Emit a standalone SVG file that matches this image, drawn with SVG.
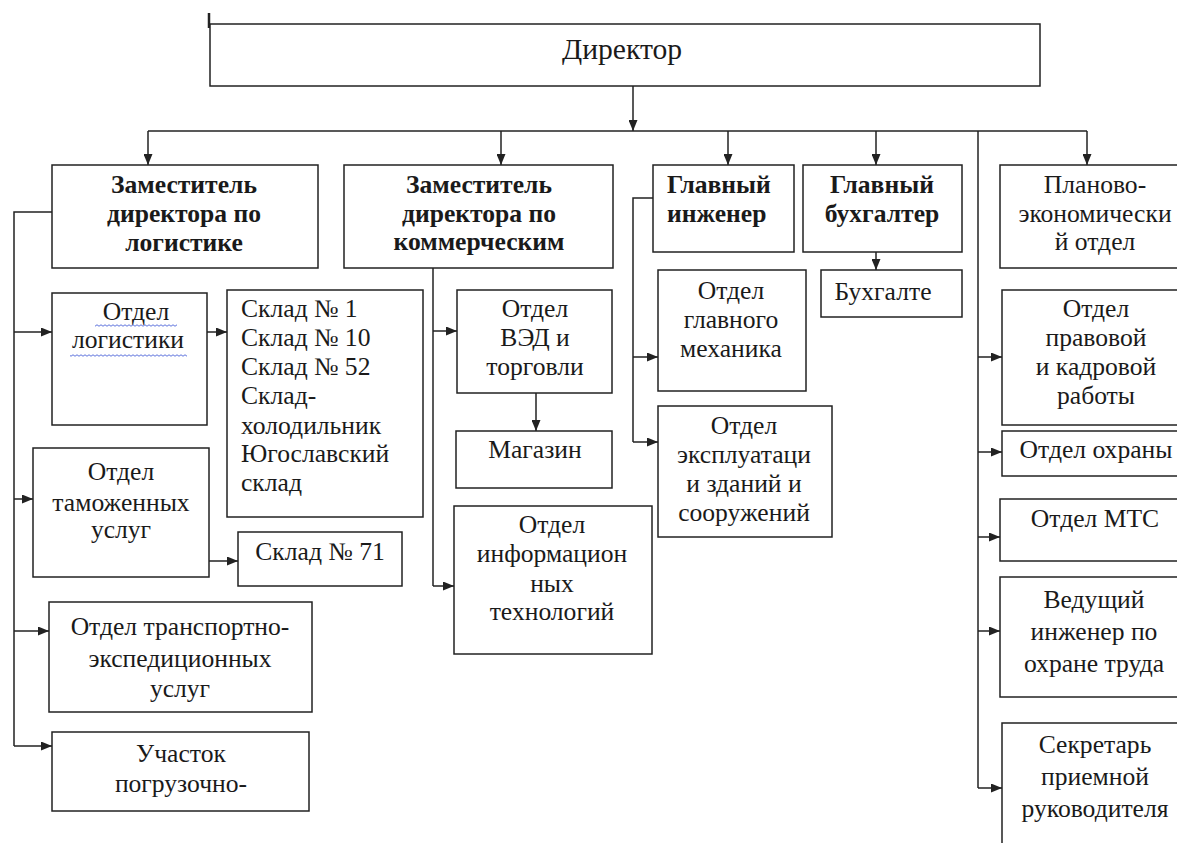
<svg xmlns="http://www.w3.org/2000/svg" width="1177" height="843" viewBox="0 0 1177 843">
  <style>
    .box { fill: #fff; stroke: #222; stroke-width: 1.5; }
    .t { font-family: "Liberation Serif", "Times New Roman", serif; font-size: 25.6px; fill: #1a1a1a; text-anchor: middle; }
    .b { font-family: "Liberation Serif", "Times New Roman", serif; font-size: 25.6px; font-weight: bold; fill: #1a1a1a; text-anchor: middle; }
    .l { text-anchor: start; }
    .conn path { fill: none; stroke: #222; stroke-width: 1.5; }
    .arr { marker-end: url(#head); }
  </style>
  <defs>
    <marker id="head" markerUnits="userSpaceOnUse" markerWidth="11" markerHeight="9" refX="11" refY="4.5" orient="auto">
      <path d="M0,0 L11,4.5 L0,9 z" fill="#222"/>
    </marker>
    <pattern id="wave" width="4" height="3" patternUnits="userSpaceOnUse">
      <path d="M0 1.5 Q1 0 2 1.5 T4 1.5" fill="none" stroke="#4a62d8" stroke-width="0.9"/>
    </pattern>
  </defs>
  <rect width="1177" height="843" fill="#fff"/>

  <!-- connectors -->
  <g class="conn">
    <path d="M209 13 V28" style="stroke-width:2.5"/>
    <path class="arr" d="M633 86 V131"/>
    <path d="M148 131 H1087"/>
    <path class="arr" d="M148 131 V165"/>
    <path class="arr" d="M501 131 V165"/>
    <path class="arr" d="M728 131 V165"/>
    <path class="arr" d="M876 131 V165"/>
    <path class="arr" d="M1087 131 V165"/>
    <!-- right column -->
    <path d="M978 131 V788"/>
    <path class="arr" d="M978 357 H1002"/>
    <path class="arr" d="M978 452 H1002"/>
    <path class="arr" d="M978 537 H1000"/>
    <path class="arr" d="M978 631 H1000"/>
    <path class="arr" d="M978 788 H1002"/>
    <!-- logistics branch -->
    <path d="M52 212 H14 V746"/>
    <path class="arr" d="M14 332 H52"/>
    <path class="arr" d="M14 499 H33"/>
    <path class="arr" d="M14 631 H49"/>
    <path class="arr" d="M14 746 H52"/>
    <path class="arr" d="M207 332 H227"/>
    <path class="arr" d="M209 561 H238"/>
    <!-- commercial branch -->
    <path d="M433 268 V586"/>
    <path class="arr" d="M433 331 H457"/>
    <path class="arr" d="M433 586 H454"/>
    <path class="arr" d="M536 393 V431"/>
    <!-- engineer branch -->
    <path d="M653 198 H633 V442"/>
    <path class="arr" d="M633 357 H658"/>
    <path class="arr" d="M633 442 H658"/>
    <!-- accountant -->
    <path class="arr" d="M876 252 V270"/>
  </g>

  <g id="director">
    <rect class="box" x="210" y="24" width="830" height="62"/>
    <text class="t" x="622" y="59" style="font-size:29.6px">Директор</text>
  </g>

  <g id="dep-logistics">
    <rect class="box" x="52" y="165" width="266" height="103"/>
    <text class="b" x="184" y="193">Заместитель</text>
    <text class="b" x="184" y="222">директора по</text>
    <text class="b" x="184" y="251">логистике</text>
  </g>

  <g id="dep-commercial">
    <rect class="box" x="344" y="165" width="269" height="103"/>
    <text class="b" x="479" y="193">Заместитель</text>
    <text class="b" x="479" y="222">директора по</text>
    <text class="b" x="479" y="250">коммерческим</text>
  </g>

  <g id="chief-engineer">
    <rect class="box" x="653" y="165" width="141" height="87"/>
    <text class="b l" x="667" y="193">Главный</text>
    <text class="b l" x="667" y="222">инженер</text>
  </g>

  <g id="chief-accountant">
    <rect class="box" x="803" y="165" width="159" height="87"/>
    <text class="b" x="882" y="193">Главный</text>
    <text class="b" x="882" y="222">бухгалтер</text>
  </g>

  <g id="planning">
    <rect class="box" x="1000" y="165" width="200" height="103"/>
    <text class="t" x="1095" y="193">Планово-</text>
    <text class="t" x="1095" y="222">экономически</text>
    <text class="t" x="1095" y="250">й отдел</text>
  </g>

  <g id="logistics-dept">
    <rect class="box" x="52" y="293" width="155" height="132"/>
    <text class="t" x="136" y="320">Отдел</text>
    <text class="t" x="128" y="348">логистики</text>
    <rect x="95" y="324" width="82" height="3" fill="url(#wave)"/>
    <rect x="70" y="354" width="117" height="3" fill="url(#wave)"/>
  </g>

  <g id="warehouses">
    <rect class="box" x="227" y="290" width="196" height="227"/>
    <text class="t l" x="241" y="317">Склад № 1</text>
    <text class="t l" x="241" y="346">Склад № 10</text>
    <text class="t l" x="241" y="375">Склад № 52</text>
    <text class="t l" x="241" y="404">Склад-</text>
    <text class="t l" x="241" y="434">холодильник</text>
    <text class="t l" x="241" y="462">Югославский</text>
    <text class="t l" x="241" y="491">склад</text>
  </g>

  <g id="customs">
    <rect class="box" x="33" y="448" width="176" height="129"/>
    <text class="t" x="121" y="480">Отдел</text>
    <text class="t" x="121" y="511">таможенных</text>
    <text class="t" x="121" y="538">услуг</text>
  </g>

  <g id="warehouse-71">
    <rect class="box" x="238" y="532" width="164" height="54"/>
    <text class="t" x="320" y="560">Склад № 71</text>
  </g>

  <g id="transport">
    <rect class="box" x="49" y="602" width="263" height="110"/>
    <text class="t" x="180" y="635">Отдел транспортно-</text>
    <text class="t" x="180" y="667">экспедиционных</text>
    <text class="t" x="180" y="697">услуг</text>
  </g>

  <g id="loading">
    <rect class="box" x="52" y="732" width="257" height="79"/>
    <text class="t" x="181" y="762">Участок</text>
    <text class="t" x="181" y="792">погрузочно-</text>
  </g>

  <g id="foreign-trade">
    <rect class="box" x="457" y="290" width="155" height="103"/>
    <text class="t" x="535" y="317">Отдел</text>
    <text class="t" x="535" y="346">ВЭД и</text>
    <text class="t" x="535" y="375">торговли</text>
  </g>

  <g id="shop">
    <rect class="box" x="456" y="431" width="156" height="57"/>
    <text class="t" x="535" y="458">Магазин</text>
  </g>

  <g id="it">
    <rect class="box" x="454" y="506" width="198" height="148"/>
    <text class="t" x="552" y="533">Отдел</text>
    <text class="t" x="552" y="562">информацион</text>
    <text class="t" x="552" y="592">ных</text>
    <text class="t" x="552" y="620">технологий</text>
  </g>

  <g id="mechanic">
    <rect class="box" x="658" y="270" width="148" height="121"/>
    <text class="t" x="731" y="299">Отдел</text>
    <text class="t" x="731" y="328">главного</text>
    <text class="t" x="731" y="357">механика</text>
  </g>

  <g id="buildings">
    <rect class="box" x="658" y="406" width="174" height="131"/>
    <text class="t" x="744" y="434">Отдел</text>
    <text class="t" x="744" y="463">эксплуатаци</text>
    <text class="t" x="744" y="492">и зданий и</text>
    <text class="t" x="744" y="521">сооружений</text>
  </g>

  <g id="accountant">
    <rect class="box" x="821" y="270" width="141" height="47"/>
    <text class="t" x="883" y="300">Бухгалте</text>
  </g>

  <g id="legal-hr">
    <rect class="box" x="1002" y="290" width="200" height="135"/>
    <text class="t" x="1096" y="317">Отдел</text>
    <text class="t" x="1096" y="346">правовой</text>
    <text class="t" x="1096" y="375">и кадровой</text>
    <text class="t" x="1096" y="404">работы</text>
  </g>

  <g id="security">
    <rect class="box" x="1002" y="431" width="200" height="45"/>
    <text class="t" x="1096" y="458">Отдел охраны</text>
  </g>

  <g id="mts">
    <rect class="box" x="1000" y="499" width="200" height="62"/>
    <text class="t" x="1095" y="527">Отдел МТС</text>
  </g>

  <g id="safety-engineer">
    <rect class="box" x="1000" y="577" width="200" height="120"/>
    <text class="t" x="1094" y="608">Ведущий</text>
    <text class="t" x="1094" y="640">инженер по</text>
    <text class="t" x="1094" y="672">охране труда</text>
  </g>

  <g id="secretary">
    <rect class="box" x="1002" y="723" width="200" height="140"/>
    <text class="t" x="1095" y="753">Секретарь</text>
    <text class="t" x="1095" y="785">приемной</text>
    <text class="t" x="1095" y="817">руководителя</text>
  </g>
</svg>
